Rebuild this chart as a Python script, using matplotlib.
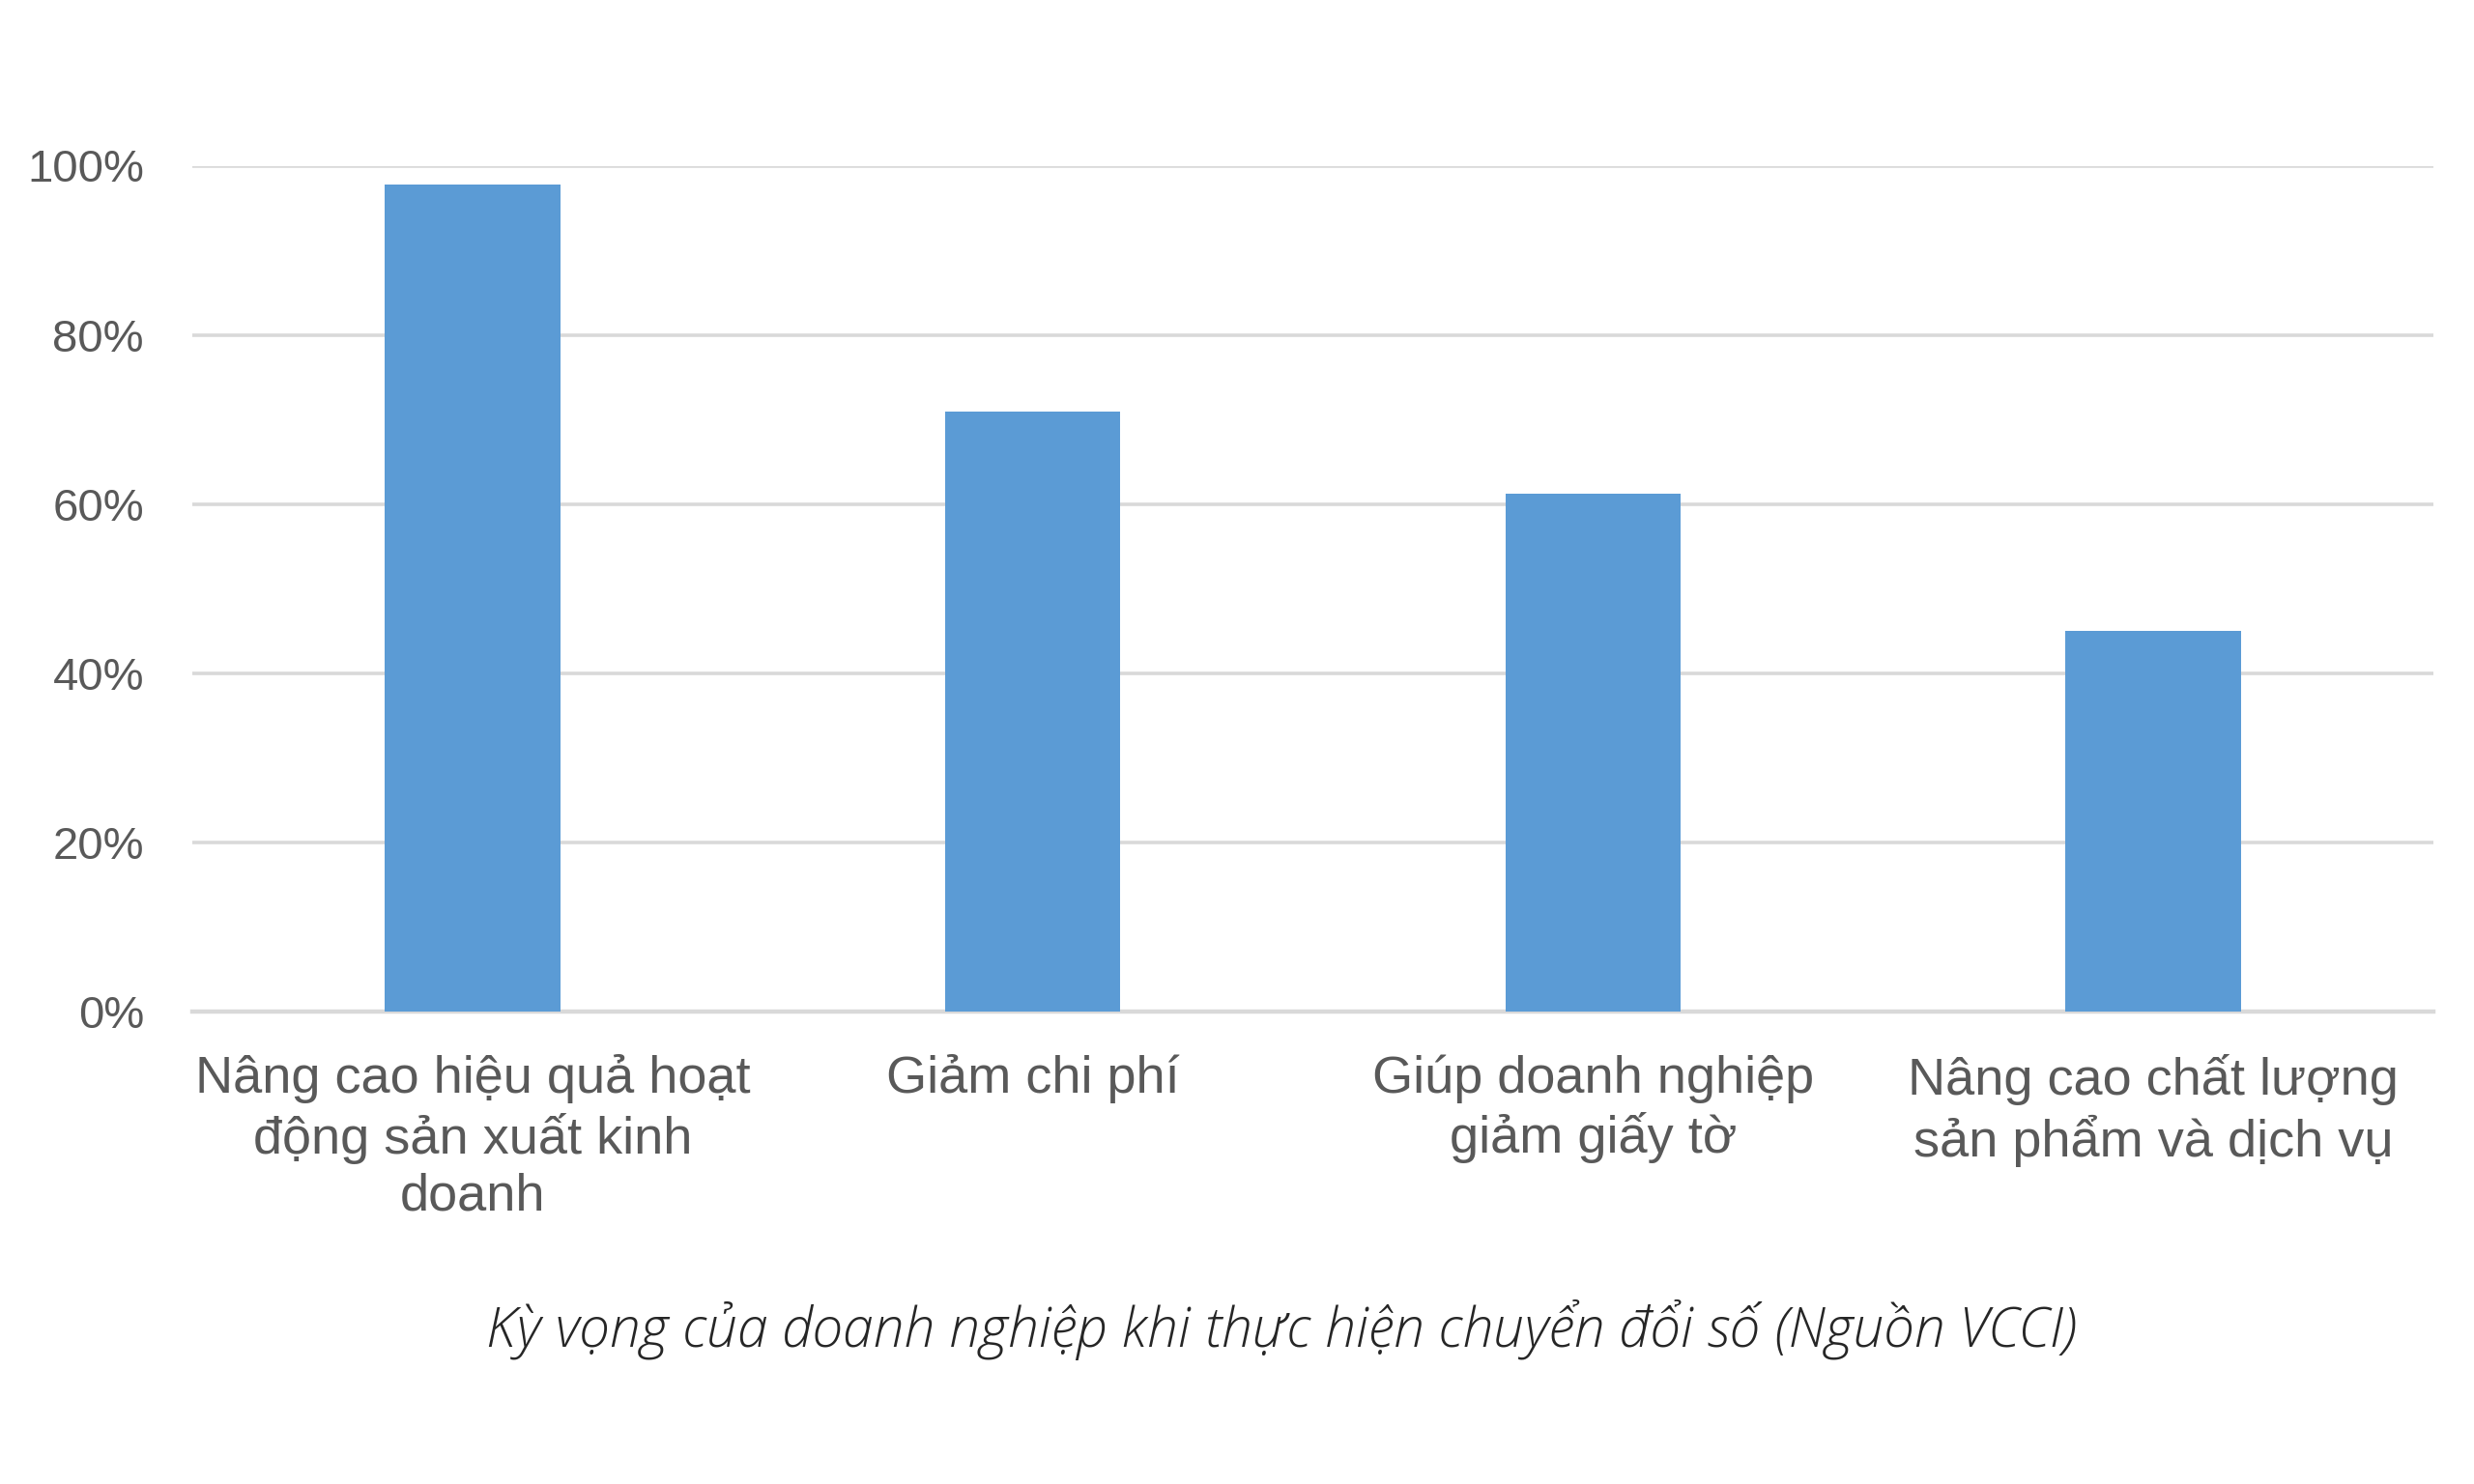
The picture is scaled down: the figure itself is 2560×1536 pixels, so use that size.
import matplotlib.pyplot as plt
import numpy as np

# du lieu doc tu hinh
categories = [
    "Nâng cao hiệu quả hoạt\nđộng sản xuất kinh\ndoanh",
    "Giảm chi phí",
    "Giúp doanh nghiệp\ngiảm giấy tờ",
    "Nâng cao chất lượng\nsản phẩm và dịch vụ",
]
values = [0.978, 0.709, 0.612, 0.450]
yticks = [0, 0.2, 0.4, 0.6, 0.8, 1.0]
ytick_labels = ["0%", "20%", "40%", "60%", "80%", "100%"]
caption = "Kỳ vọng của doanh nghiệp khi thực hiện chuyển đổi số (Nguồn VCCI)"

W, H = 2560, 1536
fig = plt.figure(figsize=(W / 100, H / 100), dpi=100)
left, right, top, bottom = 199, 2518, 171.5, 1047
ax = fig.add_axes([left / W, 1 - bottom / H, (right - left) / W, (bottom - top) / H])

x = np.arange(len(categories))
ax.bar(x, values, width=0.313, color="#5b9bd5", zorder=3)

ax.set_xlim(-0.5, len(categories) - 0.5)
ax.set_ylim(0, 1.0)
for s in ax.spines.values():
    s.set_visible(False)

ax.set_yticks(yticks)
ax.set_yticklabels(ytick_labels, fontsize=34, color="#595959",
                   family=["Liberation Sans Narrow", "Liberation Sans"])
ax.yaxis.grid(True, color="#d9d9d9", linewidth=2.6, zorder=0)
ax.axhline(0, color="#d9d9d9", linewidth=3.2, zorder=2, clip_on=False)
ax.tick_params(axis="y", length=0, pad=36)

ax.set_xticks(x)
ax.set_xticklabels(categories, fontsize=39, color="#595959",
                   family="Liberation Sans", linespacing=1.22)
ax.tick_params(axis="x", length=0, pad=32)

fig.text(0.518, 1 - 1377 / H, caption, ha="center", va="center",
         fontsize=41, style="italic", fontweight="light", color="#262626",
         family=["Open Sans", "DejaVu Sans"])

fig.savefig("out.png", dpi=100, facecolor="white")
